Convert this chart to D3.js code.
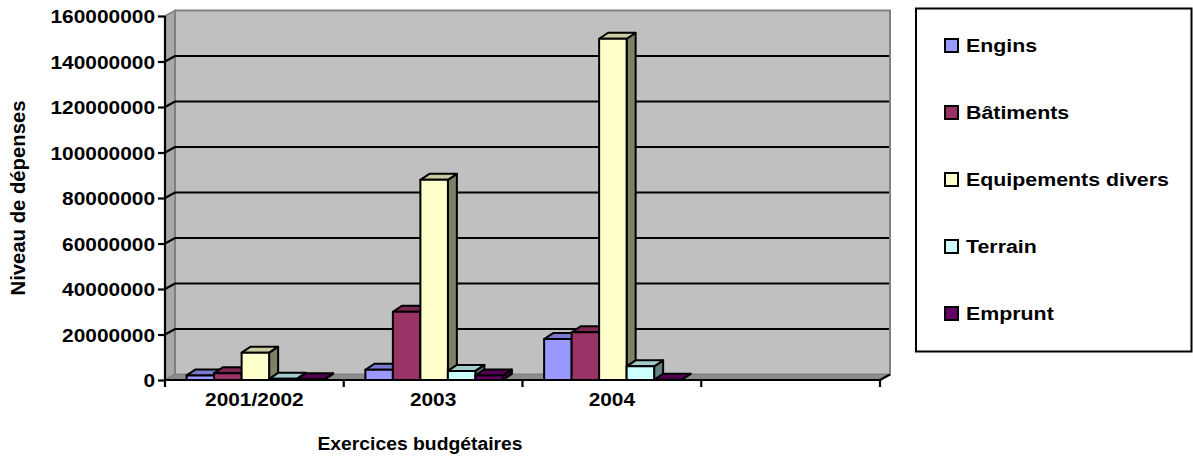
<!DOCTYPE html>
<html><head><meta charset="utf-8">
<script src="https://cdn.jsdelivr.net/npm/d3@7"></script>
<style>
html,body{margin:0;padding:0;background:#fff;}
svg{display:block;font-family:"Liberation Sans",Arial,sans-serif;font-weight:bold;}
</style></head><body>
<svg id="chart" width="1193" height="458"></svg>
<script>
// Dépenses d'investissement par exercice budgétaire
const categories = ["2001/2002", "2003", "2004", ""];
const seriesNames = ["Engins", "Bâtiments", "Equipements divers", "Terrain", "Emprunt"];
const engins      = [2000000,   4500000,  18000000, null];
const batiments   = [3000000,  30000000,  21000000, null];
const equipements = [12000000, 88000000, 150000000, null];
const terrain     = [500000,    4000000,   6000000, null];
const emprunt     = [300000,    2000000,    100000, null];
const yTicks = [0, 20000000, 40000000, 60000000, 80000000, 100000000, 120000000, 140000000, 160000000];
const seriesColors = ["#9999FF", "#993366", "#FFFFCC", "#CCFFFF", "#660066"];
const yTitle = "Niveau de dépenses";
const xTitle = "Exercices budgétaires";

const seriesValues = [engins, batiments, equipements, terrain, emprunt];

const svg = d3.select("#chart");

// plot geometry
const plotLeft = 165, plotRight = 880, plotTop = 16, plotBottom = 380;
const wallDx = 10, wallDy = -5.5;   // depth of walls/floor
const barDx = 9, barDy = -6;        // depth of columns
const fs = 18.5, sx = 1.13;         // text size and horizontal widening

const y = d3.scaleLinear().domain([0, 160000000]).range([plotBottom, plotTop]);
const x = d3.scaleBand().domain(categories).range([plotLeft, plotRight]).paddingInner(0).paddingOuter(0);
const xs = d3.scaleBand().domain(seriesNames).range([1, x.bandwidth() + 1]).paddingInner(0).paddingOuter(0.75);

const shade = (c, k) => { const r = d3.rgb(c); return d3.rgb(r.r * k, r.g * k, r.b * k).formatHex(); };
const widen = (ax, k = sx) => `matrix(${k},0,0,1,${(1 - k) * ax},0)`;
const pts = a => a.map(p => p.join(",")).join(" ");

// side wall
svg.append("polygon")
  .attr("points", pts([[plotLeft, plotTop], [plotLeft + wallDx, plotTop + wallDy], [plotLeft + wallDx, plotBottom + wallDy], [plotLeft, plotBottom]]))
  .attr("fill", "#A8A8A8").attr("stroke", "#808080").attr("stroke-width", 1.5);
// back wall
svg.append("rect")
  .attr("x", plotLeft + wallDx).attr("y", plotTop + wallDy)
  .attr("width", plotRight - plotLeft).attr("height", plotBottom - plotTop)
  .attr("fill", "#C0C0C0").attr("stroke", "#808080").attr("stroke-width", 2);
// floor
svg.append("polygon")
  .attr("points", pts([[plotLeft, plotBottom], [plotLeft + wallDx, plotBottom + wallDy], [plotRight + wallDx, plotBottom + wallDy], [plotRight, plotBottom]]))
  .attr("fill", "#8C8C8C").attr("stroke", "#808080").attr("stroke-width", 1);
svg.append("line")
  .attr("x1", plotRight).attr("y1", plotBottom).attr("x2", plotRight + wallDx).attr("y2", plotBottom + wallDy)
  .attr("stroke", "#000").attr("stroke-width", 2);

// gridlines on side and back walls
svg.append("g").selectAll("polyline")
  .data(yTicks.filter(v => v > 0 && v < 160000000))
  .join("polyline")
  .attr("points", v => pts([[plotLeft, y(v)], [plotLeft + wallDx, y(v) + wallDy], [plotRight + wallDx - 1, y(v) + wallDy]]))
  .attr("fill", "none").attr("stroke", "#000").attr("stroke-width", 2.2);

// columns
const barData = [];
categories.forEach((c, ci) => {
  seriesNames.forEach((s, si) => {
    const v = seriesValues[si][ci];
    if (v != null) barData.push({ c, s, v, color: seriesColors[si] });
  });
});
const bars = svg.append("g").selectAll("g").data(barData).join("g")
  .attr("stroke", "#000").attr("stroke-width", 2).attr("stroke-linejoin", "round");
bars.each(function (d) {
  const g = d3.select(this);
  const x0 = x(d.c) + xs(d.s), x1 = x0 + xs.bandwidth();
  const yv = y(d.v), y0 = y(0);
  g.append("polygon")
    .attr("points", pts([[x1, yv], [x1 + barDx, yv + barDy], [x1 + barDx, y0 + barDy], [x1, y0]]))
    .attr("fill", shade(d.color, 0.5));
  g.append("polygon")
    .attr("points", pts([[x0, yv], [x0 + barDx, yv + barDy], [x1 + barDx, yv + barDy], [x1, yv]]))
    .attr("fill", shade(d.color, 0.8));
  g.append("rect")
    .attr("x", x0).attr("y", yv).attr("width", x1 - x0).attr("height", y0 - yv)
    .attr("fill", d.color);
});

// value axis
const yAxis = svg.append("g").attr("transform", `translate(${plotLeft},0)`)
  .call(d3.axisLeft(y).tickValues(yTicks).tickFormat(d3.format("d")).tickSize(7).tickPadding(3));
yAxis.select(".domain").attr("stroke", "#000").attr("stroke-width", 2.2).attr("d", `M0,${plotTop}V${plotBottom}`);
yAxis.selectAll(".tick line").attr("stroke", "#000").attr("stroke-width", 2.2);
yAxis.selectAll(".tick text")
  .attr("font-size", fs).attr("font-weight", "bold").attr("font-family", "Liberation Sans, Arial, sans-serif")
  .attr("fill", "#000").attr("dy", "0.36em")
  .attr("transform", widen(-10));

// category axis
const xAxis = svg.append("g").attr("transform", `translate(0,${plotBottom})`)
  .call(d3.axisBottom(x).tickSize(0).tickPadding(13));
xAxis.select(".domain").attr("stroke", "#000").attr("stroke-width", 2.2).attr("d", `M${plotLeft},0H${plotRight}`);
xAxis.selectAll(".tick text")
  .attr("font-size", fs).attr("font-weight", "bold").attr("font-family", "Liberation Sans, Arial, sans-serif")
  .attr("fill", "#000").attr("transform", widen(0));
xAxis.append("g").selectAll("line")
  .data(categories.map(c => x(c)).concat([plotRight]))
  .join("line")
  .attr("x1", d => d).attr("x2", d => d).attr("y1", 0).attr("y2", 7)
  .attr("stroke", "#000").attr("stroke-width", 2.2);

// axis titles
svg.append("text")
  .attr("x", 420).attr("y", 450).attr("text-anchor", "middle")
  .attr("font-size", fs).attr("transform", widen(420, 1.045))
  .text(xTitle);
svg.append("text")
  .attr("transform", "translate(25,198) rotate(-90)")
  .attr("text-anchor", "middle").attr("font-size", 20.3)
  .text(yTitle);

// legend
const legend = svg.append("g");
legend.append("rect")
  .attr("x", 916).attr("y", 8.5).attr("width", 275.5).attr("height", 343)
  .attr("fill", "#fff").attr("stroke", "#000").attr("stroke-width", 2);
const items = legend.selectAll("g.item").data(seriesNames).join("g").attr("class", "item")
  .attr("transform", (d, i) => `translate(0,${52 + i * 67})`);
items.append("rect")
  .attr("x", 945).attr("y", -13).attr("width", 13).attr("height", 13)
  .attr("fill", (d, i) => seriesColors[i]).attr("stroke", "#000").attr("stroke-width", 2);
items.append("text")
  .attr("x", 966).attr("y", 0).attr("font-size", fs)
  .attr("transform", widen(966, 1.155))
  .text(d => d);
</script>
</body></html>
